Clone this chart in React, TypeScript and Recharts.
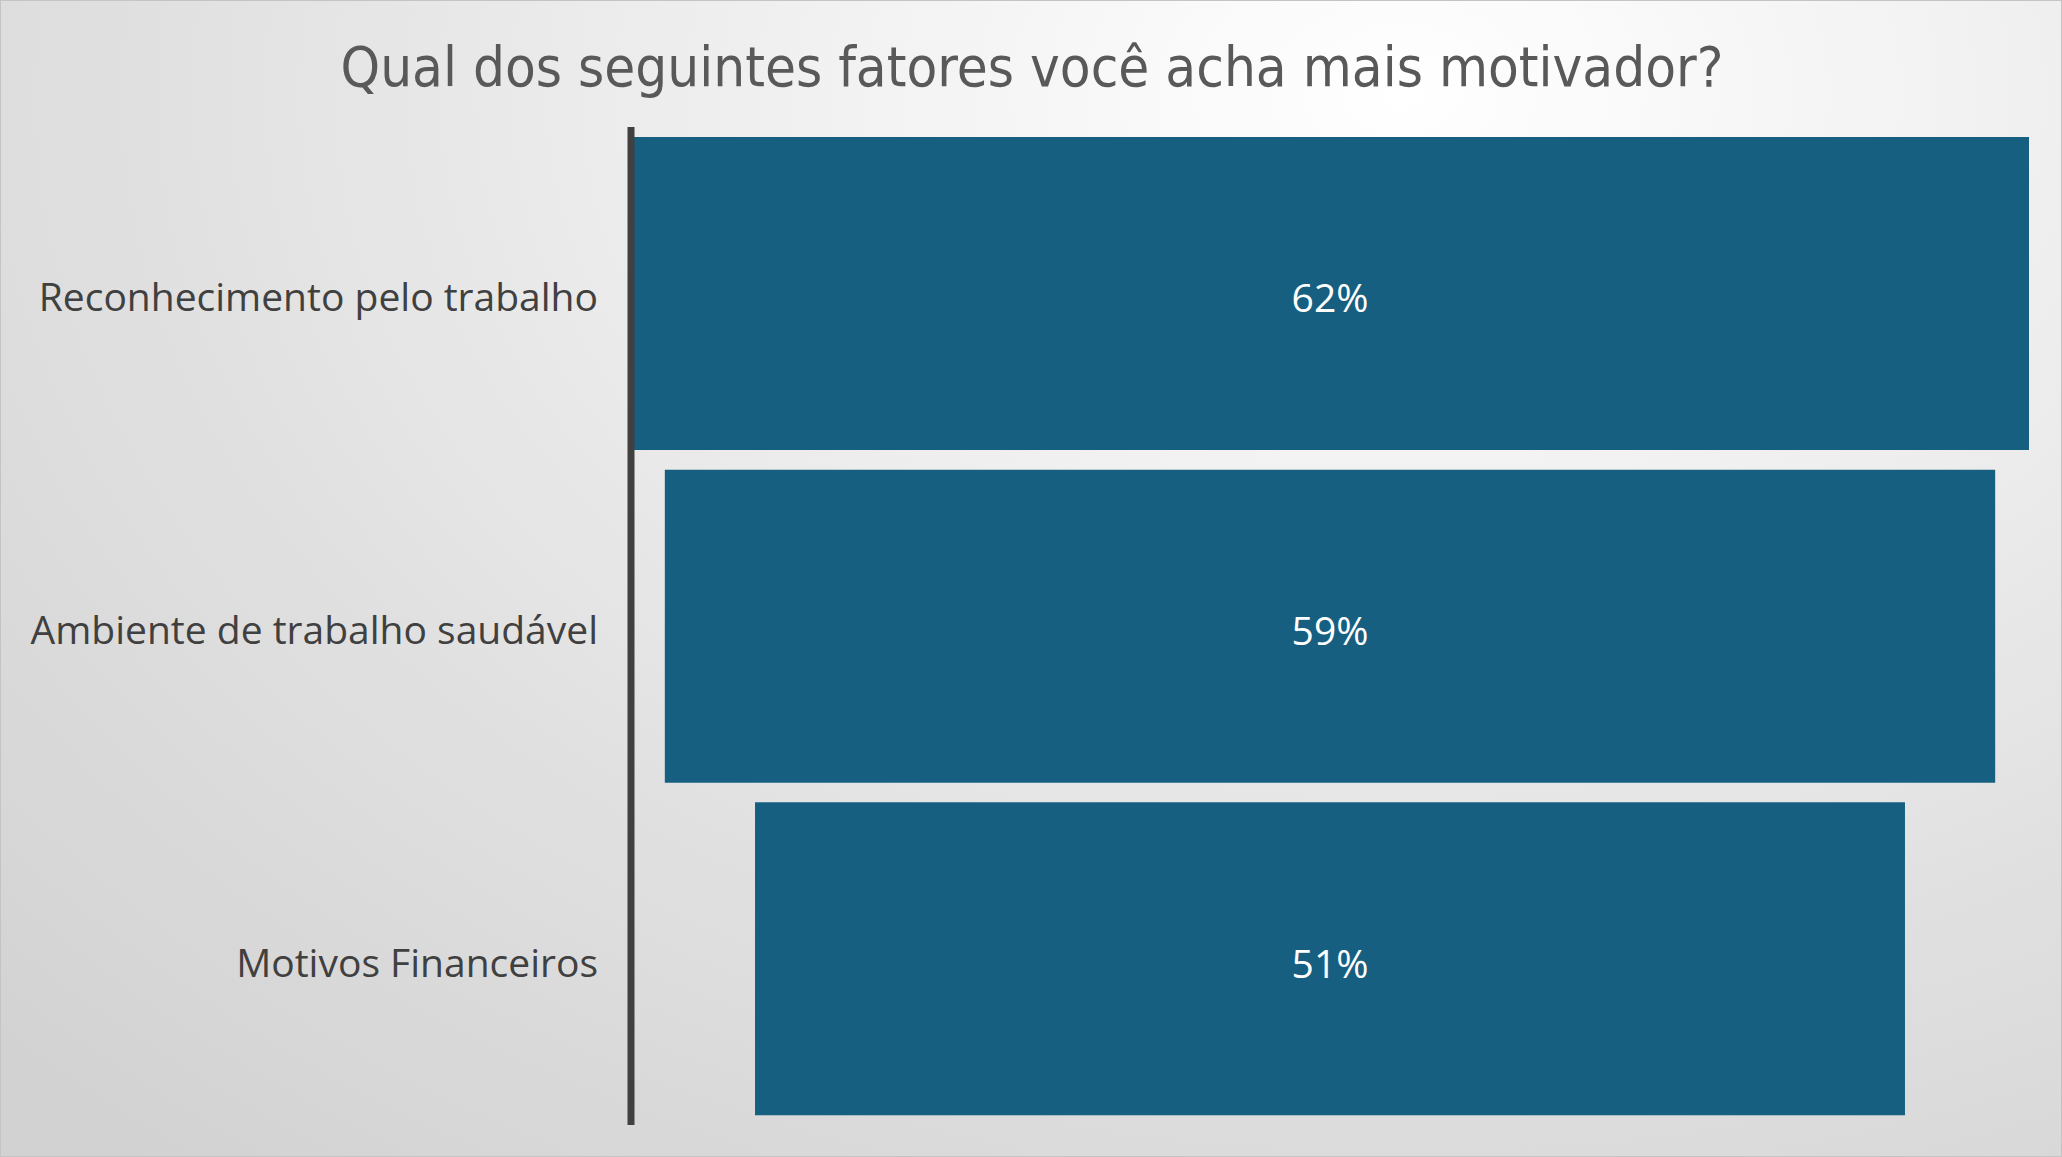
import React from "react";
import { BarChart, Bar, XAxis, YAxis, LabelList } from "recharts";

const categories = [
  "Reconhecimento pelo trabalho",
  "Ambiente de trabalho saudável",
  "Motivos Financeiros",
];
const values = [62, 59, 51];
const title = "Qual dos seguintes fatores você acha mais motivador?";

const W = 2062;
const H = 1157;

// Funnel: an invisible spacer bar centres each value bar
const maxValue = Math.max(...values);
const data = categories.map((name, i) => ({
  name,
  value: values[i],
  pad: (maxValue - values[i]) / 2,
}));

const FONT = "'Open Sans', 'Noto Sans', sans-serif";

const CategoryTick = (props: any) => {
  const { x, y, payload } = props;
  return (
    <text
      x={x}
      y={y}
      dy={18}
      textAnchor="end"
      fill="#404040"
      fontSize={39}
      fontFamily={FONT}
    >
      {payload.value}
    </text>
  );
};

const App: React.FC = () => {
  return (
    <div
      style={{
        position: "absolute",
        left: 0,
        top: 0,
        width: W,
        height: H,
        boxSizing: "border-box",
        border: "1px solid #c4c4c4",
        background:
          "radial-gradient(ellipse 95% 120% at 68% 8%, #ffffff 0%, #f1f1f1 30%, #e0e0e0 65%, #d2d2d2 100%)",
        overflow: "hidden",
      }}
    >
      <div
        style={{
          position: "absolute",
          top: 26,
          left: 0,
          width: W,
          textAlign: "center",
          fontFamily: "'Liberation Sans Narrow', 'DejaVu Sans Condensed', Roboto, sans-serif",
          fontSize: 56,
          color: "#595959",
          lineHeight: "80px",
        }}
      >
        {title}
      </div>
      <BarChart
        width={W}
        height={H}
        data={data}
        layout="vertical"
        margin={{ top: 127, right: 33, bottom: 32, left: 0 }}
        barCategoryGap={10}
        style={{ position: "absolute", left: -1, top: -1 }}
      >
        <XAxis type="number" hide domain={[0, maxValue]} />
        <YAxis
          type="category"
          dataKey="name"
          width={631}
          axisLine={{ stroke: "#404040", strokeWidth: 7 }}
          tickLine={false}
          tickSize={0}
          tickMargin={33}
          tick={CategoryTick}
        />
        <Bar dataKey="pad" stackId="f" fill="transparent" isAnimationActive={false} />
        <Bar dataKey="value" stackId="f" fill="#175f80" isAnimationActive={false}>
          <LabelList
            dataKey="value"
            position="center"
            formatter={(v: number) => `${v}%`}
            fill="#ffffff"
            dy={5}
            style={{ fontSize: 39, fontFamily: FONT }}
          />
        </Bar>
      </BarChart>
    </div>
  );
};

export default App;
